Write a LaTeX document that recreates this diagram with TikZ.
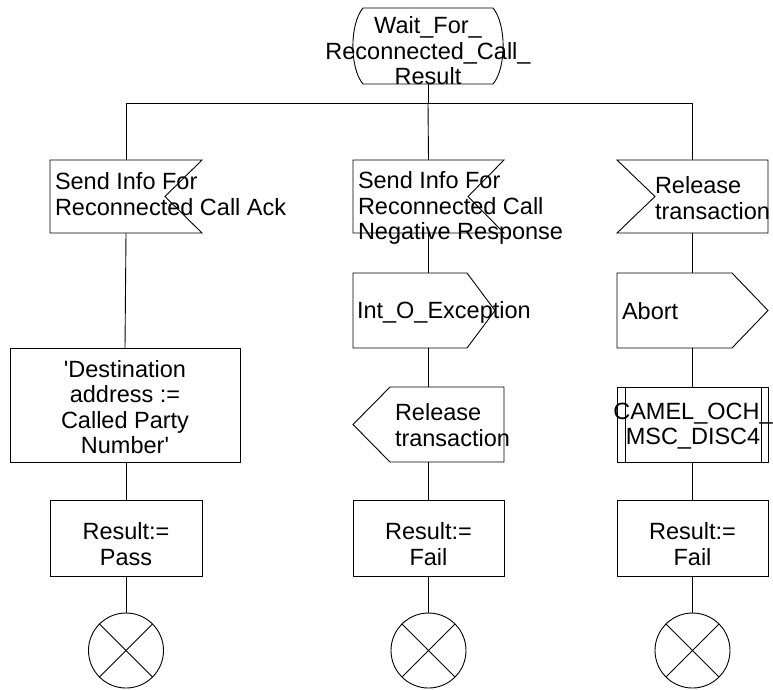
\documentclass[tikz,border=0pt]{standalone}
\usepackage{fontspec}
\newfontfamily\arialfont{Liberation Sans}
\usetikzlibrary{calc}
\tikzset{
  frame/.style={rectangle, draw=none, inner sep=0pt, outer sep=0pt},
  txt/.style={inner sep=0pt, outer sep=0pt, font=\arialfont\fontsize{23.5}{25.5}\selectfont},
  ln/.style={line width=0.9pt, draw=black},
  term/.style={circle, draw, line width=0.9pt, minimum size=75pt, inner sep=0pt, outer sep=0pt}
}
\begin{document}
\begin{tikzpicture}[x=1pt,y=-1pt]
\useasboundingbox (0,0) rectangle (773,689);
% frames
\node[frame, minimum width=150pt, minimum height=76pt] (state) at (428,46) {};
\node[frame, minimum width=152pt, minimum height=73pt] (in1) at (126,196.5) {};
\node[frame, minimum width=151pt, minimum height=73pt] (in2) at (428.5,196.5) {};
\node[frame, minimum width=151pt, minimum height=73pt] (in3) at (692.5,196.5) {};
\node[frame, minimum width=142pt, minimum height=75pt] (out2) at (424,310.5) {};
\node[frame, minimum width=151pt, minimum height=75pt] (abort3) at (692.5,310.5) {};
\node[frame, minimum width=230pt, minimum height=114pt] (task1) at (125,405) {};
\node[frame, minimum width=151pt, minimum height=75pt] (rel2) at (428.5,424.5) {};
\node[frame, minimum width=151pt, minimum height=75pt] (camel3) at (692.5,424.5) {};
\node[frame, minimum width=152pt, minimum height=76pt] (res1) at (126,538) {};
\node[frame, minimum width=151pt, minimum height=76pt] (res2) at (428.5,538) {};
\node[frame, minimum width=151pt, minimum height=76pt] (res3) at (692.5,538) {};
\node[term] (c1) at (126,650.5) {};
\node[term] (c2) at (428.5,650.5) {};
\node[term] (c3) at (692.5,650.5) {};
\coordinate (j) at (428,103);

% outlines
\draw[ln] ($(state.north west)+(10,0)$) -- ($(state.north east)+(-10,0)$)
  .. controls ($(state.east)+(3.5,-22)$) and ($(state.east)+(3.5,22)$) .. ($(state.south east)+(-10,0)$)
  -- ($(state.south west)+(10,0)$)
  .. controls ($(state.west)+(-3.5,22)$) and ($(state.west)+(-3.5,-22)$) .. cycle;
\draw[ln] (in1.north west) -- (in1.north east) -- ($(in1.east)+(-37,0)$) -- (in1.south east) -- (in1.south west) -- cycle;
\draw[ln] (in2.north west) -- (in2.north east) -- ($(in2.east)+(-36,0)$) -- (in2.south east) -- (in2.south west) -- cycle;
\draw[ln] (in3.north west) -- (in3.north east) -- (in3.south east) -- (in3.south west) -- ($(in3.west)+(38,0)$) -- cycle;
\draw[ln] (out2.north west) -- ($(out2.north east)+(-28,0)$) -- (out2.east) -- ($(out2.south east)+(-28,0)$) -- (out2.south west) -- cycle;
\draw[ln] (abort3.north west) -- ($(abort3.north east)+(-36,0)$) -- (abort3.east) -- ($(abort3.south east)+(-36,0)$) -- (abort3.south west) -- cycle;
\draw[ln] ($(rel2.north west)+(37,0)$) -- (rel2.north east) -- (rel2.south east) -- ($(rel2.south west)+(37,0)$) -- (rel2.west) -- cycle;
\draw[ln] (task1.north west) rectangle (task1.south east);
\draw[ln] (camel3.north west) rectangle (camel3.south east);
\draw[ln] ($(camel3.north west)+(8,0)$) -- ($(camel3.south west)+(8,0)$);
\draw[ln] ($(camel3.north east)+(-7,0)$) -- ($(camel3.south east)+(-7,0)$);
\draw[ln] (res1.north west) rectangle (res1.south east);
\draw[ln] (res2.north west) rectangle (res2.south east);
\draw[ln] (res3.north west) rectangle (res3.south east);
\foreach \c in {c1,c2,c3}{
  \draw[ln] (\c.north east) -- (\c.south west);
  \draw[ln] (\c.north west) -- (\c.south east);
}

% connectors
\draw[ln] (state.south) -- (j);
\draw[ln] (in1.north) -- (in1.north |- j) -- (in3.north |- j) -- (in3.north);
\draw[ln] (j) -- (in2.north);
\draw[ln] (in1.south) -- (task1.north);
\draw[ln] (task1.south -| res1.north) -- (res1.north);
\draw[ln] (res1.south) -- (c1.north);
\draw[ln] (in2.south) -- (in2.south |- out2.north);
\draw[ln] (in2.south |- out2.south) -- (rel2.north);
\draw[ln] (rel2.south) -- (res2.north);
\draw[ln] (res2.south) -- (c2.north);
\draw[ln] (in3.south) -- (abort3.north);
\draw[ln] (abort3.south) -- (camel3.north);
\draw[ln] (camel3.south) -- (res3.north);
\draw[ln] (res3.south) -- (c3.north);

% texts
\node[txt, align=center] (tstate) at (428,51) {Wait\_For\_\\Reconnected\_Call\_\\Result};
\node[txt, align=left, anchor=west] (tin1) at (55,194) {Send Info For\\Reconnected Call Ack};
\node[txt, align=left, anchor=west] (tin2) at (358,208) {Send Info For\\Reconnected Call\\Negative Response};
\node[txt, align=left, anchor=west] (tin3) at (655,198) {Release\\transaction};
\node[txt, align=left, anchor=west] (tout2) at (357,312) {Int\_O\_Exception};
\node[txt, align=left, anchor=west] (tabort) at (622,311) {Abort};
\node[txt, align=left, anchor=west] (trel2) at (395,425) {Release\\transaction};
\node[txt, align=center] (tcamel) at (693,426) {CAMEL\_OCH\_\\MSC\_DISC4};
\node[txt, align=center] (ttask) at (125,407) {'Destination\\address :=\\Called Party\\Number'};
\node[txt, align=center] (tres1) at (126,544) {Result:=\\Pass};
\node[txt, align=center] (tres2) at (428.5,544) {Result:=\\Fail};
\node[txt, align=center] (tres3) at (692.5,544) {Result:=\\Fail};
\end{tikzpicture}
\end{document}
